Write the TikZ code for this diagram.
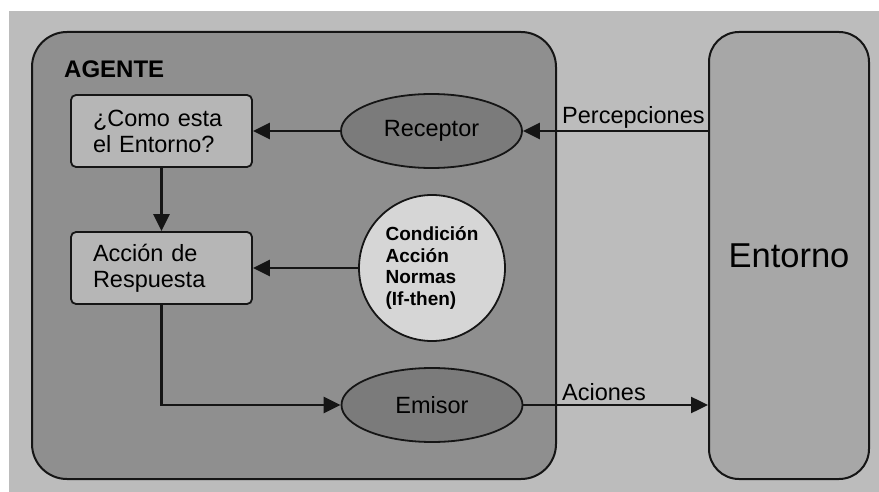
\documentclass[tikz,border=0pt]{standalone}
\usepackage{fontspec}
\setmainfont{Liberation Sans}
\usetikzlibrary{shapes.geometric,arrows.meta}

\definecolor{bgray}{HTML}{BCBCBC}
\definecolor{agentgray}{HTML}{8F8F8F}
\definecolor{boxgray}{HTML}{B6B6B6}
\definecolor{ellgray}{HTML}{7B7B7B}
\definecolor{circgray}{HTML}{D6D6D6}
\definecolor{envgray}{HTML}{A7A7A7}
\definecolor{ink}{HTML}{151515}

\tikzset{
  container/.style={draw=ink, line width=2pt, inner sep=0pt},
  stepbox/.style={draw=ink, line width=1.8pt, fill=boxgray, rounded corners=5pt,
    text width=137pt, minimum height=72pt, align=left,
    inner xsep=22pt, inner ysep=0pt,
    font=\fontsize{23.5pt}{26pt}\selectfont},
  oval/.style={ellipse, draw=ink, line width=1.8pt, fill=ellgray, inner sep=0pt,
    minimum width=181pt, minimum height=74pt,
    font=\fontsize{23.5pt}{26pt}\selectfont},
  flow/.style={draw=ink, line width=2.5pt, -{Triangle[length=17pt,width=16pt]}},
  lbl/.style={font=\fontsize{23.5pt}{26pt}\selectfont, inner sep=0pt}
}

\begin{document}
\begin{tikzpicture}[x=1pt, y=-1pt]
  \useasboundingbox (0,0) rectangle (879,492);
  % page margin and grey background
  \fill[white] (0,0) rectangle (879,492);
  \fill[bgray] (9,11) rectangle (879,492);

  % the two containers
  \node[container, fill=agentgray, rounded corners=35pt,
        minimum width=524pt, minimum height=447pt] (agent) at (294,255.5) {};
  \node[container, fill=envgray, rounded corners=30pt,
        minimum width=160pt, minimum height=447pt,
        font=\fontsize{34.5pt}{38pt}\selectfont] (ent) at (789,255.5) {Entorno};

  \node[anchor=base west, inner sep=0pt, font=\bfseries\fontsize{24pt}{26pt}\selectfont]
    (title) at (64,78) {AGENTE};

  % internal blocks
  \node[stepbox] (q) at (161.5,131) {¿Como esta\\el Entorno?};
  \node[stepbox] (resp) at (161.5,268) {Acción de\\Respuesta};
  \node[oval] (rec) at (431.5,131) {Receptor};
  \node[oval] (emi) at (432,405) {Emisor};
  \node[circle, draw=ink, line width=1.8pt, fill=circgray, minimum size=146pt,
        inner sep=0pt, align=left,
        font=\bfseries\fontsize{19pt}{21.5pt}\selectfont] (cond) at (432,268)
        {Condición\\Acción\\Normas\\(If-then)};

  % flows inside the agent
  \draw[flow] (rec.west) -- (q.east);
  \draw[flow] (cond.west) -- (cond.west -| resp.east);
  \draw[flow] (q.south) -- (resp.north);
  \draw[flow] (resp.south) |- (emi.west);

  % exchange with the environment
  \coordinate (pin) at (ent.west |- rec.east);
  \coordinate (aout) at (ent.west |- emi.east);
  \draw[flow] (pin) -- (rec.east);
  \draw[flow] (emi.east) -- (aout);
  \node[lbl, anchor=base west] (perc) at (562,124) {Percepciones};
  \node[lbl, anchor=base west] (acc) at (562,400) {Aciones};
\end{tikzpicture}
\end{document}
